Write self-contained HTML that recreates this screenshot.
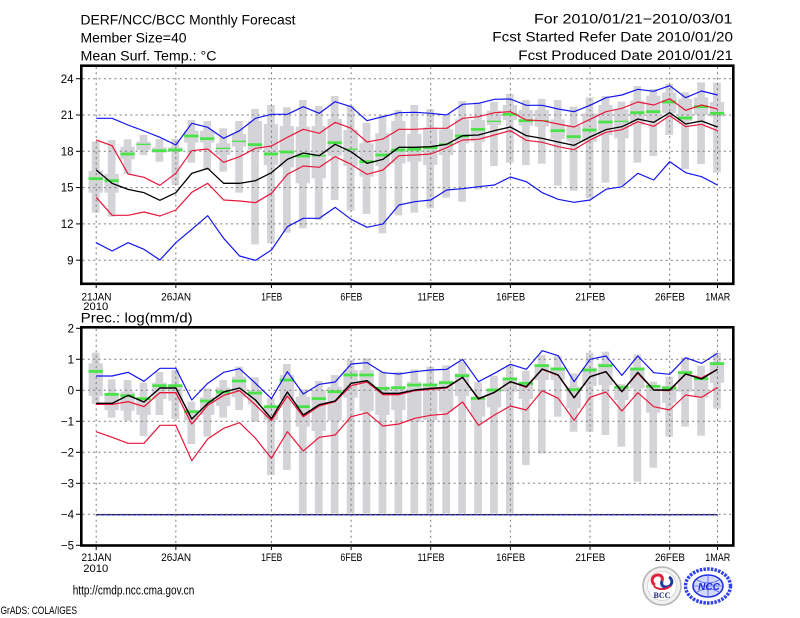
<!DOCTYPE html>
<html>
<head>
<meta charset="utf-8">
<style>
html,body{margin:0;padding:0;background:#fff;}
svg{display:block;}
text{font-family:"Liberation Sans",sans-serif;fill:#000;}
</style>
</head>
<body>
<svg id="c" width="800" height="618" viewBox="0 0 800 618" xmlns="http://www.w3.org/2000/svg">
<rect x="0" y="0" width="800" height="618" fill="#fff"/>
<g id="plot"></g>
<!-- Header text -->
<text x="80.5" y="24.3" font-size="13.5" textLength="215" lengthAdjust="spacingAndGlyphs">DERF/NCC/BCC Monthly Forecast</text>
<text x="80.5" y="42.6" font-size="13.5" textLength="106" lengthAdjust="spacingAndGlyphs">Member Size=40</text>
<text x="80.5" y="60.5" font-size="13.5" textLength="136" lengthAdjust="spacingAndGlyphs">Mean Surf. Temp.: °C</text>
<text x="534" y="23.3" font-size="13.5" textLength="198.5" lengthAdjust="spacingAndGlyphs">For 2010/01/21−2010/03/01</text>
<text x="492.3" y="41.7" font-size="13.5" textLength="240.7" lengthAdjust="spacingAndGlyphs">Fcst Started Refer Date 2010/01/20</text>
<text x="518.3" y="60" font-size="13.5" textLength="214.7" lengthAdjust="spacingAndGlyphs">Fcst Produced Date 2010/01/21</text>
<text x="80.7" y="322.6" font-size="13.5" textLength="112" lengthAdjust="spacingAndGlyphs">Prec.: log(mm/d)</text>
<!-- Footer -->
<text x="72.7" y="594.6" font-size="13" textLength="121.6" lengthAdjust="spacingAndGlyphs">http://cmdp.ncc.cma.gov.cn</text>
<text x="0.5" y="614" font-size="11" textLength="76.5" lengthAdjust="spacingAndGlyphs">GrADS: COLA/IGES</text>
<!-- BCC logo -->
<g>
<circle cx="662" cy="586" r="19" fill="#f1f1f1" stroke="#b5b5b5" stroke-width="1.6"/>
<circle cx="662" cy="586" r="14.5" fill="#fff" stroke="#d8d8d8" stroke-width="1"/>
<path d="M655,585 C650,582 652,575 658,575 C662,575 663,578 662,581" fill="none" stroke="#e0203a" stroke-width="3"/>
<path d="M669,577 C674,580 672,587 666,587 C662,587 661,584 662,581" fill="none" stroke="#1a3aa8" stroke-width="3"/>
<path d="M654,586 C657,590 667,590 670,586" fill="none" stroke="#e0203a" stroke-width="2"/>
<text x="662" y="598" font-size="8" font-weight="bold" text-anchor="middle" style="font-family:'Liberation Serif',serif;fill:#1a2a80">BCC</text>
</g>
<!-- NCC logo -->
<g>
<ellipse cx="708" cy="586" rx="22.5" ry="17" fill="none" stroke="#3040ee" stroke-width="3.5" stroke-dasharray="2.5,1.2"/>
<ellipse cx="708" cy="586" rx="15" ry="11" fill="#d4d9ff" stroke="#2233dd" stroke-width="1.6"/>
<path d="M694,586 L722,586 M708,575 L708,597 M697,580 Q708,586 719,580 M697,592 Q708,586 719,592" fill="none" stroke="#5060f0" stroke-width="0.8"/>
<text x="709" y="590" font-size="10" font-weight="bold" font-style="italic" text-anchor="middle" style="fill:#1a28e0">NCC</text>
</g>
</svg>
<script>
(function(){
var X=function(d){return 96.2+15.93*d;};
var fT=function(z){return 60+z/3;};
var fB=function(z){return 320+z/3;};
var GRAY="#d4d4d8",GREEN="#49e249",RED="#e8183c",BLUE="#1414f0";
var s="";
function rect(x,y,w,h,fill){s+='<rect x="'+x.toFixed(2)+'" y="'+y.toFixed(2)+'" width="'+w.toFixed(2)+'" height="'+h.toFixed(2)+'" fill="'+fill+'"/>';}
function line(x1,y1,x2,y2,st,w,da){s+='<line x1="'+x1.toFixed(2)+'" y1="'+y1.toFixed(2)+'" x2="'+x2.toFixed(2)+'" y2="'+y2.toFixed(2)+'" stroke="'+st+'" stroke-width="'+w+'"'+(da?' stroke-dasharray="'+da+'"':'')+'/>';}
function poly(arr,yf,color,w){var p=[];for(var d=0;d<arr.length;d++){p.push(X(d).toFixed(2)+','+yf(arr[d]).toFixed(2));}s+='<polyline fill="none" stroke="'+color+'" stroke-width="'+w+'" stroke-linejoin="round" points="'+p.join(' ')+'"/>';}
function txt(x,y,t,anchor,size,tl){s+='<text x="'+x.toFixed(2)+'" y="'+y.toFixed(2)+'" font-size="'+size+'" text-anchor="'+anchor+'"'+(tl?' textLength="'+tl+'" lengthAdjust="spacingAndGlyphs"':'')+'>'+t+'</text>';}

/* ---------------- TOP CHART ---------------- */
var tBlueHi=[175,175,195,213,232,255,190,202,235,212,175,163,163,140,160,125,140,182,170,158,157,160,165,133,130,118,117,136,136,147,155,136,113,105,88,94,77,113,93,105];
var tRedHi=[240,257,342,352,376,340,272,267,307,290,265,258,232,208,220,187,205,246,237,208,208,205,205,175,170,158,155,180,182,192,201,178,155,145,126,135,116,151,135,147];
var tBlack=[330,370,388,398,421,398,340,325,370,370,362,338,298,279,287,253,275,310,298,262,262,260,253,227,225,212,201,227,235,246,256,231,209,200,177,187,158,192,183,201];
var tRedLo=[412,466,466,456,468,450,397,370,420,423,428,400,343,318,322,290,313,343,330,287,285,282,263,240,238,225,212,241,247,260,269,240,217,209,185,199,167,200,193,212];
var tBlueLo=[548,573,548,568,600,548,508,467,535,588,601,570,500,475,475,442,478,502,492,435,425,420,390,386,380,375,351,365,398,418,427,420,388,380,340,360,305,338,350,375];
var tBars=[
[245,458,333,398,356,0],[240,470,342,398,362,0],[238,342,260,298,282,0],[225,285,245,270,253,1],
[237,305,262,278,272,0],[237,375,262,275,270,0],[180,308,212,248,228,0],[183,330,212,248,236,0],
[205,335,250,285,265,1],[183,398,222,260,244,1],[147,553,183,270,254,0],[135,550,192,315,282,0],
[142,518,198,322,276,0],[120,505,200,370,288,0],[138,480,198,355,287,1],[108,420,177,287,248,0],
[137,452,210,318,268,1],[188,462,250,350,305,0],[165,520,220,318,285,0],[150,466,183,310,270,0],
[135,458,222,305,268,0],[148,445,202,315,263,0],[168,413,208,285,252,1],[123,425,178,250,228,0],
[127,388,180,245,208,0],[125,318,152,195,184,1],[102,308,135,180,163,0],[120,315,150,197,182,0],
[117,311,150,200,182,1],[120,377,178,237,212,0],[140,392,197,245,230,0],[112,415,160,245,210,0],
[108,368,135,225,186,0],[125,377,148,235,184,1],[78,308,122,195,158,0],[87,288,107,180,155,0],
[72,225,98,160,126,0],[97,327,117,183,174,0],[67,312,112,165,140,0],[68,338,126,170,160,0]];

/* ---------------- BOTTOM CHART ---------------- */
var bBlueHi=[168,168,157,184,145,145,240,190,157,146,190,236,155,222,193,186,132,128,158,162,155,150,148,118,185,160,133,148,92,107,185,118,108,166,108,158,163,113,130,100];
var bBlack=[250,250,226,246,204,204,297,250,216,204,240,296,216,285,254,243,190,182,220,220,210,205,202,172,236,217,185,200,147,165,233,170,155,215,157,210,210,162,177,148];
var bRedHi=[253,253,245,260,218,218,312,256,226,212,255,302,228,290,258,245,197,186,224,224,212,208,204,172,238,217,185,202,148,166,234,170,155,214,160,210,212,162,174,148];
var bRedLo=[335,352,370,370,316,316,422,357,325,308,355,415,335,393,352,345,290,278,318,312,295,286,282,246,316,285,258,270,212,235,301,232,216,273,218,260,270,225,232,202];
var bBlueLo=[];for(var i=0;i<40;i++)bBlueLo.push(584);
var bBars=[
[98,252,130,228,154],[178,293,225,270,223],[180,302,215,272,227],[188,348,240,285,236],
[156,285,188,237,197],[150,297,195,242,197],[245,372,270,300,275],[205,350,232,285,243],
[180,293,202,258,216],[140,270,170,232,183],[172,305,210,253,219],[235,465,262,300,260],
[132,450,165,240,180],[208,580,230,320,260],[183,580,210,333,236],[165,580,200,302,215],
[120,580,150,233,165],[115,580,150,273,165],[155,580,200,285,205],[155,580,200,270,203],
[148,580,185,305,195],[140,580,190,300,195],[136,580,182,275,188],[125,580,160,228,167],
[187,580,230,290,235],[167,580,205,262,210],[135,580,172,215,177],[152,435,185,237,190],
[105,400,132,180,137],[107,290,142,180,147],[160,335,200,265,209],[98,335,143,198,150],
[95,345,130,195,137],[192,380,200,240,202],[103,485,142,205,147],[185,443,195,278,199],
[170,350,197,248,204],[113,320,152,215,158],[137,347,165,233,176],[98,266,126,188,131]];

var gridDays=[0,5,11,16,21,26,31,36,39];
var labels=[["21JAN",30],["26JAN",30],["1FEB",21],["6FEB",22],["11FEB",27],["16FEB",29],["21FEB",30],["26FEB",30],["1MAR",25]];
var GC="#7a7a7a",GD="2,3.3";

function drawBars(bars,yf){
  for(var d=0;d<bars.length;d++){
    var b=bars[d],cx=X(d)-0.5;
    rect(cx-3.85,yf(b[0]),7.7,yf(b[1])-yf(b[0]),GRAY);
    rect(cx-7.15,yf(b[2]),14.3,yf(b[3])-yf(b[2]),GRAY);
  }
}
function drawGreens(bars,yf){
  for(var d=0;d<bars.length;d++){
    var b=bars[d],cx=X(d)-0.5,h=b[5]?1.3:2.8;
    rect(cx-7.15,yf(b[4])-h/2,14.3,h,GREEN);
  }
}

/* top chart */
drawBars(tBars,fT);
var tGridY=[78.7,115.0,151.3,187.6,223.9,260.2];
tGridY.forEach(function(y){line(82.6,y,732,y,GC,1,GD);});
gridDays.forEach(function(d){line(X(d),67,X(d),282.5,GC,1,GD);});
drawGreens(tBars,fT);
poly(tBlueLo,fT,BLUE,1.2);
poly(tRedLo,fT,RED,1.2);
poly(tBlueHi,fT,BLUE,1.2);
poly(tRedHi,fT,RED,1.2);
poly(tBlack,fT,"#000",1.3);
s+='<rect x="81.3" y="65.7" width="652" height="218.1" fill="none" stroke="#000" stroke-width="2.6"/>';
var tLab=["24","21","18","15","12","9"];
tGridY.forEach(function(y,i){line(76,y,81,y,"#000",1);txt(73.5,y+4.1,tLab[i],"end",11.5);});
gridDays.forEach(function(d,i){line(X(d),285,X(d),288,"#000",1);txt(X(d)+0.3,300.5,labels[i][0],"middle",11,labels[i][1]);});
txt(95.8,309.8,"2010","middle",11,25);

/* bottom chart */
drawBars(bBars,fB);
var bGridY=[359.3,390.3,421.3,452.3,483.3,514.3];
poly(bBlueLo,fB,BLUE,1.4);
bGridY.forEach(function(y){line(82.6,y,732,y,GC,1,GD);});
line(X(0),514.7,X(39),514.7,"#222",1.2,"3,2.3");
gridDays.forEach(function(d){line(X(d),329,X(d),544.3,GC,1,GD);});
drawGreens(bBars,fB);
poly(bRedLo,fB,RED,1.2);
poly(bBlueHi,fB,BLUE,1.2);
poly(bRedHi,fB,RED,1.3);
poly(bBlack,fB,"#000",1.4);
s+='<rect x="81.3" y="327.3" width="652" height="218.2" fill="none" stroke="#000" stroke-width="2.6"/>';
var bLab=["2","1","0","−1","−2","−3","−4","−5"];
var bLabY=[328.3,359.3,390.3,421.3,452.3,483.3,514.3,545.3];
bLabY.forEach(function(y,i){line(76,y,81,y,"#000",1);txt(74,y+4.1,bLab[i],"end",11.5);});
gridDays.forEach(function(d,i){line(X(d),547,X(d),550,"#000",1);txt(X(d)+0.3,560.8,labels[i][0],"middle",11,labels[i][1]);});
txt(95.8,572,"2010","middle",11,25);

document.getElementById("plot").innerHTML=s;
})();
</script>
</body>
</html>
